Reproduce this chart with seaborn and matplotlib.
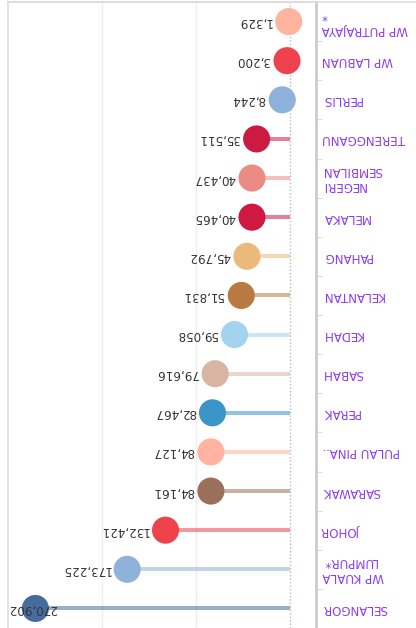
import matplotlib
matplotlib.use("Agg")
import matplotlib.pyplot as plt
import matplotlib.transforms as mtransforms
from matplotlib.lines import Line2D
import seaborn as sns
import pandas as pd

states = ["SELANGOR", "WP KUALA\nLUMPUR*", "JOHOR", "SARAWAK", "PULAU PINA..",
          "PERAK", "SABAH", "KEDAH", "KELANTAN", "PAHANG", "MELAKA",
          "NEGERI\nSEMBILAN", "TERENGGANU", "PERLIS", "WP LABUAN",
          "WP PUTRAJAYA\n*"]
values = [270902, 173225, 132421, 84161, 84127, 82467, 79616, 59058, 51831,
          45792, 40465, 40437, 35511, 8244, 3200, 1329]
colors = ["#456c9c", "#8fb2da", "#ee434d", "#9b705a", "#ffb3a0", "#3b95c6",
          "#d8b5a2", "#a3d3ef", "#b87a40", "#ebb97c", "#cf1942", "#ec8a84",
          "#cc1a42", "#8fb2da", "#ee434d", "#ffb4a0"]
grid_values = [100000, 200000]

df = pd.DataFrame({"state": states, "value": values,
                   "pos": list(range(len(states)))})

sns.set_theme(style="white")
plt.rcParams["font.family"] = ["DejaVu Sans"]

W, H = 416, 628
fig = plt.figure(figsize=(W / 100, H / 100), dpi=100)
ax = fig.add_axes([8 / W, 0, (316 - 8) / W, (H - 2) / H])

# stems from zero to each value
ax.hlines(df["pos"], 0, df["value"], colors=colors, alpha=0.55, lw=2.9, zorder=2)

# dots
sns.scatterplot(data=df, x="value", y="pos", hue="state",
                palette=dict(zip(states, colors)), s=380, linewidth=0,
                legend=False, ax=ax, zorder=3)

# zero reference and grid
ax.axvline(0, color="#bbbbbb", lw=1, ls=(0, (1, 1.5)), zorder=1)
for g in grid_values:
    ax.axvline(g, color="#eeeeee", lw=1, zorder=0)

ax.set_xlim(300000, -27660)
ax.set_ylim(-0.5, len(states) - 0.5)
ax.set_xlabel("")
ax.set_ylabel("")
ax.set_xticks([])
ax.set_yticks([])
ax.set_yticks([i + 0.5 for i in range(len(states) - 1)], minor=True)
ax.yaxis.tick_right()
ax.tick_params(axis="y", which="minor", right=True, left=False, length=4,
               width=0.8, color="#dddddd", direction="out")

for side in ["left", "top"]:
    ax.spines[side].set_visible(True)
    ax.spines[side].set_color("#dddddd")
    ax.spines[side].set_linewidth(1.2)
ax.spines["right"].set_color("#cccccc")
ax.spines["right"].set_linewidth(2)
ax.spines["bottom"].set_visible(False)

# top rule across the full width
fig.add_artist(Line2D([8 / W, 1], [(H - 2) / H] * 2, color="#dddddd", lw=1.2,
                      transform=fig.transFigure))

# category labels beside the axis
lab_tr = mtransforms.blended_transform_factory(ax.transAxes, ax.transData)
lab_tr = lab_tr + mtransforms.ScaledTranslation(6 / 100, 0, fig.dpi_scale_trans)
for y, name in zip(df["pos"], states):
    ax.text(1, y, name, transform=lab_tr, rotation=180, ha="left", va="center",
            multialignment="right", color="#8b3cf7", fontsize=8.6,
            clip_on=False)

# value labels next to the dots, kept inside the frame
texts = []
for y, v in zip(df["pos"], values):
    t = ax.annotate(f"{v:,}", xy=(v, y), xytext=(-12, 0),
                    textcoords="offset points", rotation=180, ha="right",
                    va="center", color="#333333", fontsize=8.6, zorder=4)
    texts.append(t)

fig.canvas.draw()
renderer = fig.canvas.get_renderer()
ax_left = ax.get_window_extent(renderer).x0
for t in texts:
    bb = t.get_window_extent(renderer)
    if bb.x0 < ax_left:
        shift = (ax_left - bb.x0) / fig.dpi * 72
        ox, oy = t.xyann
        t.xyann = (ox + shift, oy)

fig.savefig("out.png", dpi=100)
